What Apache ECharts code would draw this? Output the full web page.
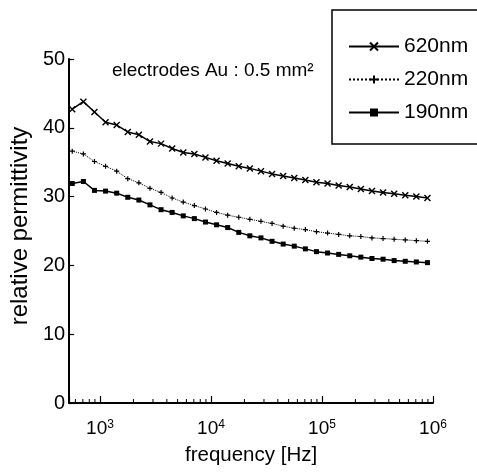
<!DOCTYPE html>
<html>
<head>
<meta charset="utf-8">
<script src="https://cdn.jsdelivr.net/npm/echarts@6/dist/echarts.min.js"></script>
<style>
  html, body { margin: 0; padding: 0; background: #fff; }
  #chart { width: 477px; height: 475px; }
</style>
</head>
<body>
<div id="chart"></div>
<script>
// Measurement frequencies [Hz], 10 points per decade
const freq = [562, 708, 891, 1122, 1413, 1778, 2239, 2818, 3548, 4467,
  5623, 7079, 8913, 11220, 14125, 17783, 22387, 28184, 35481, 44668,
  56234, 70795, 89125, 112202, 141254, 177828, 223872, 281838, 354813, 446684,
  562341, 707946, 891251];

// Relative permittivity for each film thickness
const eps620 = [42.7, 43.8, 42.3, 40.8, 40.4, 39.4, 39.0, 38.0, 37.7, 37.0,
  36.4, 36.2, 35.7, 35.2, 34.8, 34.4, 34.1, 33.7, 33.3, 33.0,
  32.7, 32.4, 32.1, 31.9, 31.6, 31.4, 31.1, 30.8, 30.6, 30.4,
  30.2, 30.0, 29.8];
const eps220 = [36.6, 36.2, 35.1, 34.4, 33.7, 32.6, 32.0, 31.2, 30.6, 29.8,
  29.2, 28.7, 28.2, 27.7, 27.3, 27.0, 26.7, 26.4, 26.1, 25.7,
  25.4, 25.2, 24.9, 24.7, 24.5, 24.3, 24.2, 24.0, 23.9, 23.8,
  23.7, 23.6, 23.5];
const eps190 = [31.9, 32.2, 30.9, 30.8, 30.5, 29.9, 29.5, 28.8, 28.1, 27.7,
  27.2, 26.8, 26.3, 25.9, 25.5, 24.8, 24.3, 24.0, 23.5, 23.1,
  22.8, 22.4, 22.0, 21.8, 21.6, 21.4, 21.2, 21.0, 20.9, 20.7,
  20.6, 20.5, 20.4];

const seriesNames = ['620nm', '220nm', '190nm'];

// Minor ticks of the logarithmic frequency axis
const minorTickFreq = [600, 700, 800, 900,
  2000, 3000, 4000, 5000, 6000, 7000, 8000, 9000,
  20000, 30000, 40000, 50000, 60000, 70000, 80000, 90000,
  200000, 300000, 400000, 500000, 600000, 700000, 800000, 900000];

const FONT = 'Liberation Sans';

const pts = ys => freq.map((f, i) => [f, ys[i]]);

const crossSym = 'path://M0,0L10,10M10,0L0,10';
const plusSym = 'path://M5,0L5,10M0,5L10,5';

const chart = echarts.init(document.getElementById('chart'), null, { renderer: 'canvas' });

chart.setOption({
  animation: false,
  backgroundColor: '#fff',
  textStyle: { fontFamily: FONT, color: '#000' },
  grid: { left: 68, right: 44, top: 59, bottom: 72 },
  xAxis: {
    type: 'log',
    logBase: 10,
    min: 527,
    max: 1000000,
    name: 'frequency [Hz]',
    nameLocation: 'middle',
    nameGap: 42,
    nameTextStyle: { fontSize: 20.5, color: '#000', fontFamily: FONT },
    axisLine: { lineStyle: { color: '#000', width: 2 } },
    axisTick: { inside: true, length: 7, lineStyle: { color: '#000', width: 1.2 } },
    splitLine: { show: false },
    axisLabel: {
      margin: 16,
      color: '#000',
      formatter: v => {
        const e = Math.round(Math.log10(v));
        if (Math.abs(Math.log10(v) - e) > 1e-6) return '';
        return '{b|10}{s|' + e + '}';
      },
      rich: {
        b: { fontSize: 19, fontFamily: FONT, color: '#000' },
        s: { fontSize: 12, fontFamily: FONT, color: '#000', verticalAlign: 'top', padding: [0, 0, 8, 0] }
      }
    }
  },
  yAxis: {
    type: 'value',
    min: 0,
    max: 50,
    interval: 10,
    name: 'relative permittivity',
    nameLocation: 'middle',
    nameGap: 36,
    nameTextStyle: { fontSize: 24, color: '#000', fontFamily: FONT, padding: [0, 0, 0, 10] },
    axisLine: { show: true, lineStyle: { color: '#000', width: 2 } },
    axisTick: { show: true, inside: true, length: 5, lineStyle: { color: '#000', width: 1.2 } },
    splitLine: { show: false },
    axisLabel: { fontSize: 20, color: '#000', margin: 4, fontFamily: FONT }
  },
  legend: {
    left: 332,
    top: 10,
    orient: 'vertical',
    padding: [26, 20, 22, 16],
    itemGap: 12,
    itemWidth: 50,
    itemHeight: 10,
    textStyle: { fontSize: 21, color: '#000', fontFamily: FONT },
    data: seriesNames
  },
  graphic: [
    {
      // legend frame, running off the right edge of the canvas
      type: 'rect',
      shape: { x: 332, y: 10, width: 200, height: 134 },
      style: { fill: 'none', stroke: '#000', lineWidth: 1.5 },
      z: 10
    },
    {
      type: 'text',
      left: 112,
      top: 61,
      style: { text: 'electrodes Au : 0.5 mm²', fontSize: 19, fontFamily: FONT, fill: '#000' }
    }
  ],
  series: [
    {
      name: seriesNames[0],
      type: 'line',
      data: pts(eps620),
      symbol: crossSym,
      symbolSize: 6,
      lineStyle: { color: '#000', width: 1.5 },
      itemStyle: { color: 'none', borderColor: '#000', borderWidth: 1.4 }
    },
    {
      name: seriesNames[1],
      type: 'line',
      data: pts(eps220),
      symbol: plusSym,
      symbolSize: 5,
      lineStyle: { color: '#000', width: 1, type: 'dotted' },
      itemStyle: { color: 'none', borderColor: '#000', borderWidth: 1.2 }
    },
    {
      name: seriesNames[2],
      type: 'line',
      data: pts(eps190),
      symbol: 'rect',
      symbolSize: 5,
      lineStyle: { color: '#000', width: 1.5 },
      itemStyle: { color: '#000', borderColor: '#000', borderWidth: 0 }
    },
    {
      // short upward minor ticks along the frequency axis
      type: 'custom',
      silent: true,
      data: minorTickFreq.map(f => [f, 0]),
      renderItem: (params, api) => {
        const p = api.coord([api.value(0), 0]);
        return {
          type: 'line',
          shape: { x1: p[0], y1: p[1], x2: p[0], y2: p[1] - 4 },
          style: { stroke: '#000', lineWidth: 1 }
        };
      }
    }
  ]
});
</script>
</body>
</html>
